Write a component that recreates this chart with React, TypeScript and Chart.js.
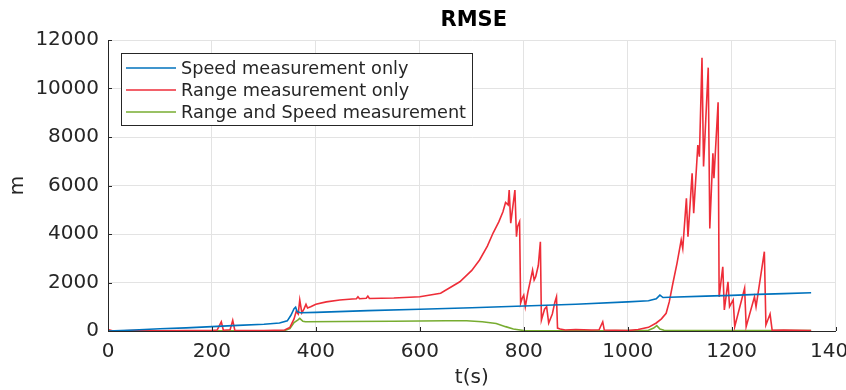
import React, { useEffect, useRef } from "react";
import { Chart, registerables } from "chart.js";

Chart.register(...registerables);

const chartTitle = "RMSE";
const seriesLabels = ["Speed measurement only", "Range measurement only", "Range and Speed measurement"];
const xTicks = [0, 200, 400, 600, 800, 1000, 1200, 1400];
const yTicks = [0, 2000, 4000, 6000, 8000, 10000, 12000];

const speedT = [0, 50, 100, 150, 200, 250, 300, 330, 345, 352, 358, 361, 364, 370, 400, 500, 600, 700, 800, 900, 1000, 1040, 1055, 1062, 1068, 1080, 1150, 1200, 1250, 1300, 1353];
const speedV = [0, 40, 90, 130, 180, 230, 280, 330, 420, 650, 920, 980, 800, 750, 770, 840, 900, 960, 1030, 1100, 1200, 1250, 1330, 1480, 1380, 1390, 1440, 1470, 1510, 1540, 1580];

const rangeT = [0, 10, 50, 100, 150, 200, 210, 218, 222, 235, 240, 244, 300, 340, 350, 358, 362, 366, 369, 373, 377, 381, 384, 390, 400, 420, 446, 470, 478, 481, 484, 497, 500, 503, 550, 600, 640, 677, 700, 715, 730, 741, 752, 760, 765, 770, 772, 775, 783, 786, 788, 792, 794, 797, 800, 803, 808, 812, 817, 820, 823, 828, 832, 834, 840, 844, 848, 855, 860, 863, 865, 870, 880, 900, 930, 945, 952, 955, 1000, 1020, 1040, 1055, 1065, 1074, 1080, 1087, 1095, 1103, 1106, 1113, 1116, 1124, 1127, 1135, 1138, 1143, 1146, 1155, 1158, 1164, 1166, 1174, 1176, 1183, 1186, 1193, 1196, 1203, 1206, 1225, 1228, 1244, 1247, 1263, 1266, 1274, 1278, 1300, 1353];
const rangeV = [60, 0, 20, 10, 20, 20, 40, 380, 30, 50, 440, 30, 20, 40, 150, 500, 800, 700, 1280, 750, 900, 1100, 950, 1000, 1100, 1200, 1280, 1320, 1330, 1410, 1330, 1350, 1440, 1340, 1360, 1410, 1560, 2030, 2500, 2930, 3500, 4040, 4500, 4920, 5300, 5200, 5810, 4450, 5810, 3890, 4300, 4510, 1150, 1350, 1480, 1000, 1600, 2000, 2510, 2100, 2240, 2700, 3680, 450, 900, 1000, 330, 700, 1200, 1410, 120, 80, 40, 60, 40, 50, 380, 40, 20, 60, 150, 330, 500, 730, 1200, 1970, 2800, 3750, 3400, 5470, 3890, 6500, 4860, 7670, 7190, 11270, 6780, 10860, 4230, 7330, 6300, 9430, 1410, 2650, 870, 2030, 1000, 1280, 180, 1760, 180, 1410, 1000, 3270, 250, 700, 30, 40, 20];

const bothT = [0, 100, 200, 300, 340, 350, 358, 365, 369, 375, 380, 450, 550, 650, 690, 720, 747, 765, 780, 800, 850, 950, 1040, 1050, 1056, 1062, 1070, 1150, 1250, 1353];
const bothV = [10, 5, 10, 10, 20, 100, 350, 450, 520, 400, 380, 390, 400, 420, 420, 380, 310, 180, 80, 20, 10, 10, 30, 120, 220, 80, 30, 20, 20, 20];

const COLORS = ["#0072BD", "#EE2D38", "#77AC30"];
const AXIS = "#262626";
const FONT = "'DejaVu Sans', sans-serif";

const pts = (t: number[], v: number[]) => t.map((x, i) => ({ x, y: v[i] }));

const decorPlugin = {
  id: "decor",
  afterDraw(chart: any) {
    const { ctx, chartArea, scales } = chart;
    const xs = scales.x;
    const ys = scales.y;
    ctx.save();
    ctx.strokeStyle = AXIS;
    ctx.lineWidth = 1;
    ctx.beginPath();
    for (const v of yTicks) {
      const py = Math.round(ys.getPixelForValue(v)) + 0.5;
      ctx.moveTo(chartArea.left, py);
      ctx.lineTo(chartArea.left + 4, py);
    }
    for (const v of xTicks) {
      const px = Math.round(xs.getPixelForValue(v)) + 0.5;
      ctx.moveTo(px, chartArea.bottom);
      ctx.lineTo(px, chartArea.bottom - 4);
    }
    ctx.stroke();
    // title
    ctx.fillStyle = "#000";
    ctx.font = `bold 21px ${FONT}`;
    ctx.textAlign = "center";
    ctx.textBaseline = "middle";
    ctx.fillText(chartTitle, (chartArea.left + chartArea.right) / 2 + 2, 20.5);
    // legend
    const bx = 121.5, by = 53.5, bw = 351, bh = 72;
    ctx.fillStyle = "#ffffff";
    ctx.fillRect(bx, by, bw, bh);
    ctx.strokeStyle = AXIS;
    ctx.strokeRect(bx, by, bw, bh);
    ctx.font = `17.7px ${FONT}`;
    ctx.textBaseline = "middle";
    ctx.textAlign = "left";
    chart.data.datasets.forEach((ds: any, i: number) => {
      const y = 68 + i * 22;
      ctx.strokeStyle = ds.borderColor;
      ctx.lineWidth = 1.5;
      ctx.beginPath();
      ctx.moveTo(126, y);
      ctx.lineTo(176, y);
      ctx.stroke();
      ctx.fillStyle = AXIS;
      ctx.fillText(ds.label, 181, y + 1);
    });
    ctx.restore();
  },
};

export default function App() {
  const ref = useRef<HTMLCanvasElement | null>(null);
  useEffect(() => {
    document.body.style.margin = "0";
    const chart = new Chart(ref.current as HTMLCanvasElement, {
      type: "line",
      data: {
        datasets: [
          { label: seriesLabels[0], data: pts(speedT, speedV), borderColor: COLORS[0], backgroundColor: COLORS[0] },
          { label: seriesLabels[1], data: pts(rangeT, rangeV), borderColor: COLORS[1], backgroundColor: COLORS[1] },
          { label: seriesLabels[2], data: pts(bothT, bothV), borderColor: COLORS[2], backgroundColor: COLORS[2] },
        ],
      },
      options: {
        animation: false,
        responsive: false,
        devicePixelRatio: 1,
        parsing: false as any,
        elements: { point: { radius: 0 }, line: { borderWidth: 1.6, tension: 0 } },
        layout: { padding: { left: 0, right: 34, top: 40, bottom: 0 } },
        plugins: {
          legend: { display: false },
          tooltip: { enabled: false },
          title: { display: false },
        },
        scales: {
          x: {
            type: "linear",
            min: 0,
            max: 1400,
            afterBuildTicks: (s: any) => { s.ticks = xTicks.map((v) => ({ value: v })); },
            afterFit: (s: any) => { s.height = 59; },
            ticks: { color: AXIS, font: { family: FONT, size: 20 }, padding: 9, maxRotation: 0, autoSkip: false, callback: (v: any) => String(v) },
            grid: { color: "#e3e3e3", drawTicks: false, tickLength: 0 },
            border: { color: AXIS, width: 1 },
            title: { display: true, text: "t(s)", color: AXIS, font: { family: FONT, size: 20 }, padding: { top: 0, bottom: 0 } },
          },
          y: {
            type: "linear",
            min: 0,
            max: 12000,
            afterBuildTicks: (s: any) => { s.ticks = yTicks.map((v) => ({ value: v })); },
            afterFit: (s: any) => { s.width = 108; },
            ticks: { color: AXIS, font: { family: FONT, size: 20 }, padding: 9, callback: (v: any) => String(v) },
            grid: { color: "#e3e3e3", drawTicks: false, tickLength: 0 },
            border: { color: AXIS, width: 1 },
            title: { display: true, text: "m", color: AXIS, font: { family: FONT, size: 20 }, padding: { top: 6, bottom: 0 } },
          },
        },
      },
      plugins: [decorPlugin],
    });
    return () => chart.destroy();
  }, []);
  return (
    <div style={{ position: "fixed", left: 0, top: 0, width: 846, height: 390, overflow: "hidden", background: "#fff" }}>
      <canvas ref={ref} width={870} height={390} style={{ display: "block" }} />
    </div>
  );
}
